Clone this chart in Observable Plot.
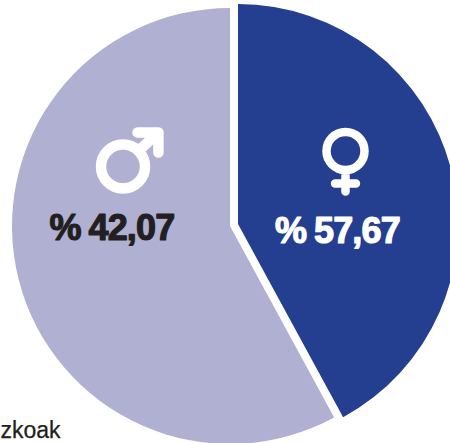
<!DOCTYPE html>
<html>
<head>
<meta charset="utf-8">
<script src="https://cdn.jsdelivr.net/npm/d3@7"></script>
<script src="https://cdn.jsdelivr.net/npm/@observablehq/plot@0.6"></script>
<style>
html,body{margin:0;padding:0;background:#fff;overflow:hidden}
svg{display:block}
</style>
</head>
<body>
<div id="chart"></div>
<script>
const groups = ["emakumeak", "gizonak"];
const shares = [42.07, 57.93];
const labels = ["% 57,67", "% 42,07"];
const colors = ["#243f8f", "#b0b0d3"];
const labelColors = ["#ffffff", "#231f20"];
const footer = ["zkoak"];

const W = 450, H = 443;
const centers = [[238, 224], [230, 226]];
const radii = [220, 218];
const labelPos = [[337, 242], [111.5, 239]];
const symbolPos = [[345, 150.5], [122.5, 166]];

const femaleSymbol = {draw(c, size) {
  const r = Math.sqrt(size / Math.PI);
  c.moveTo(r, 0); c.arc(0, 0, r, 0, 2 * Math.PI);
  c.moveTo(0, r); c.lineTo(0, 2.13 * r);
  c.moveTo(-0.55 * r, 1.71 * r); c.lineTo(0.55 * r, 1.71 * r);
}};
const maleSymbol = {draw(c, size) {
  const r = Math.sqrt(size / Math.PI);
  c.moveTo(r, 0); c.arc(0, 0, r, 0, 2 * Math.PI);
  c.moveTo(0.7 * r, -0.7 * r); c.lineTo(1.61 * r, -1.55 * r);
  c.moveTo(0.66 * r, -1.55 * r); c.lineTo(1.61 * r, -1.55 * r); c.lineTo(1.61 * r, -0.64 * r);
}};

const pieData = d3.pie().sort(null)(shares);
function slices(index, scales) {
  const g = d3.create("svg:g");
  pieData.forEach((d, i) => {
    const path = d3.arc().innerRadius(0).outerRadius(radii[i])(d);
    g.append("path")
      .attr("d", path)
      .attr("fill", colors[i])
      .attr("transform", `translate(${scales.x(centers[i][0])},${scales.y(centers[i][1])})`);
  });
  return g.node();
}
const rows = groups.map((g, i) => ({g, i}));
const font = "'Liberation Sans', Arial, sans-serif";

const plot = Plot.plot({
  width: W, height: H,
  margin: 0,
  style: {background: "transparent", overflow: "hidden"},
  x: {domain: [0, W], range: [0, W], axis: null},
  y: {domain: [0, H], range: [0, H], axis: null},
  marks: [
    slices,
    Plot.dot([rows[0]], {x: () => symbolPos[0][0], y: () => symbolPos[0][1], r: 19, symbol: femaleSymbol,
      stroke: "#fff", fill: "none", strokeWidth: 8.5, strokeLinejoin: "round", strokeLinecap: "round"}),
    Plot.dot([rows[1]], {x: () => symbolPos[1][0], y: () => symbolPos[1][1], r: 22, symbol: maleSymbol,
      stroke: "#fff", fill: "none", strokeWidth: 10.5, strokeLinejoin: "round", strokeLinecap: "round"}),
    Plot.text(rows, {x: d => labelPos[d.i][0], y: d => labelPos[d.i][1], text: d => labels[d.i],
      fill: d => labelColors[d.i], stroke: d => labelColors[d.i], strokeWidth: 1.2,
      fontFamily: font, fontWeight: 700, fontSize: 36, textAnchor: "middle", lineAnchor: "bottom"}),
    Plot.text(footer, {x: () => 0, y: () => 437, text: d => d, fill: "#231f20", stroke: "#231f20", strokeWidth: 0.25,
      fontFamily: font, fontSize: 23, textAnchor: "start", lineAnchor: "bottom"})
  ]
});
plot.querySelectorAll("text").forEach(t => {
  if (t.textContent.startsWith("%")) { t.style.letterSpacing = "-0.8px"; t.style.wordSpacing = "-1.5px"; }
});
document.getElementById("chart").appendChild(plot);
</script>
</body>
</html>
